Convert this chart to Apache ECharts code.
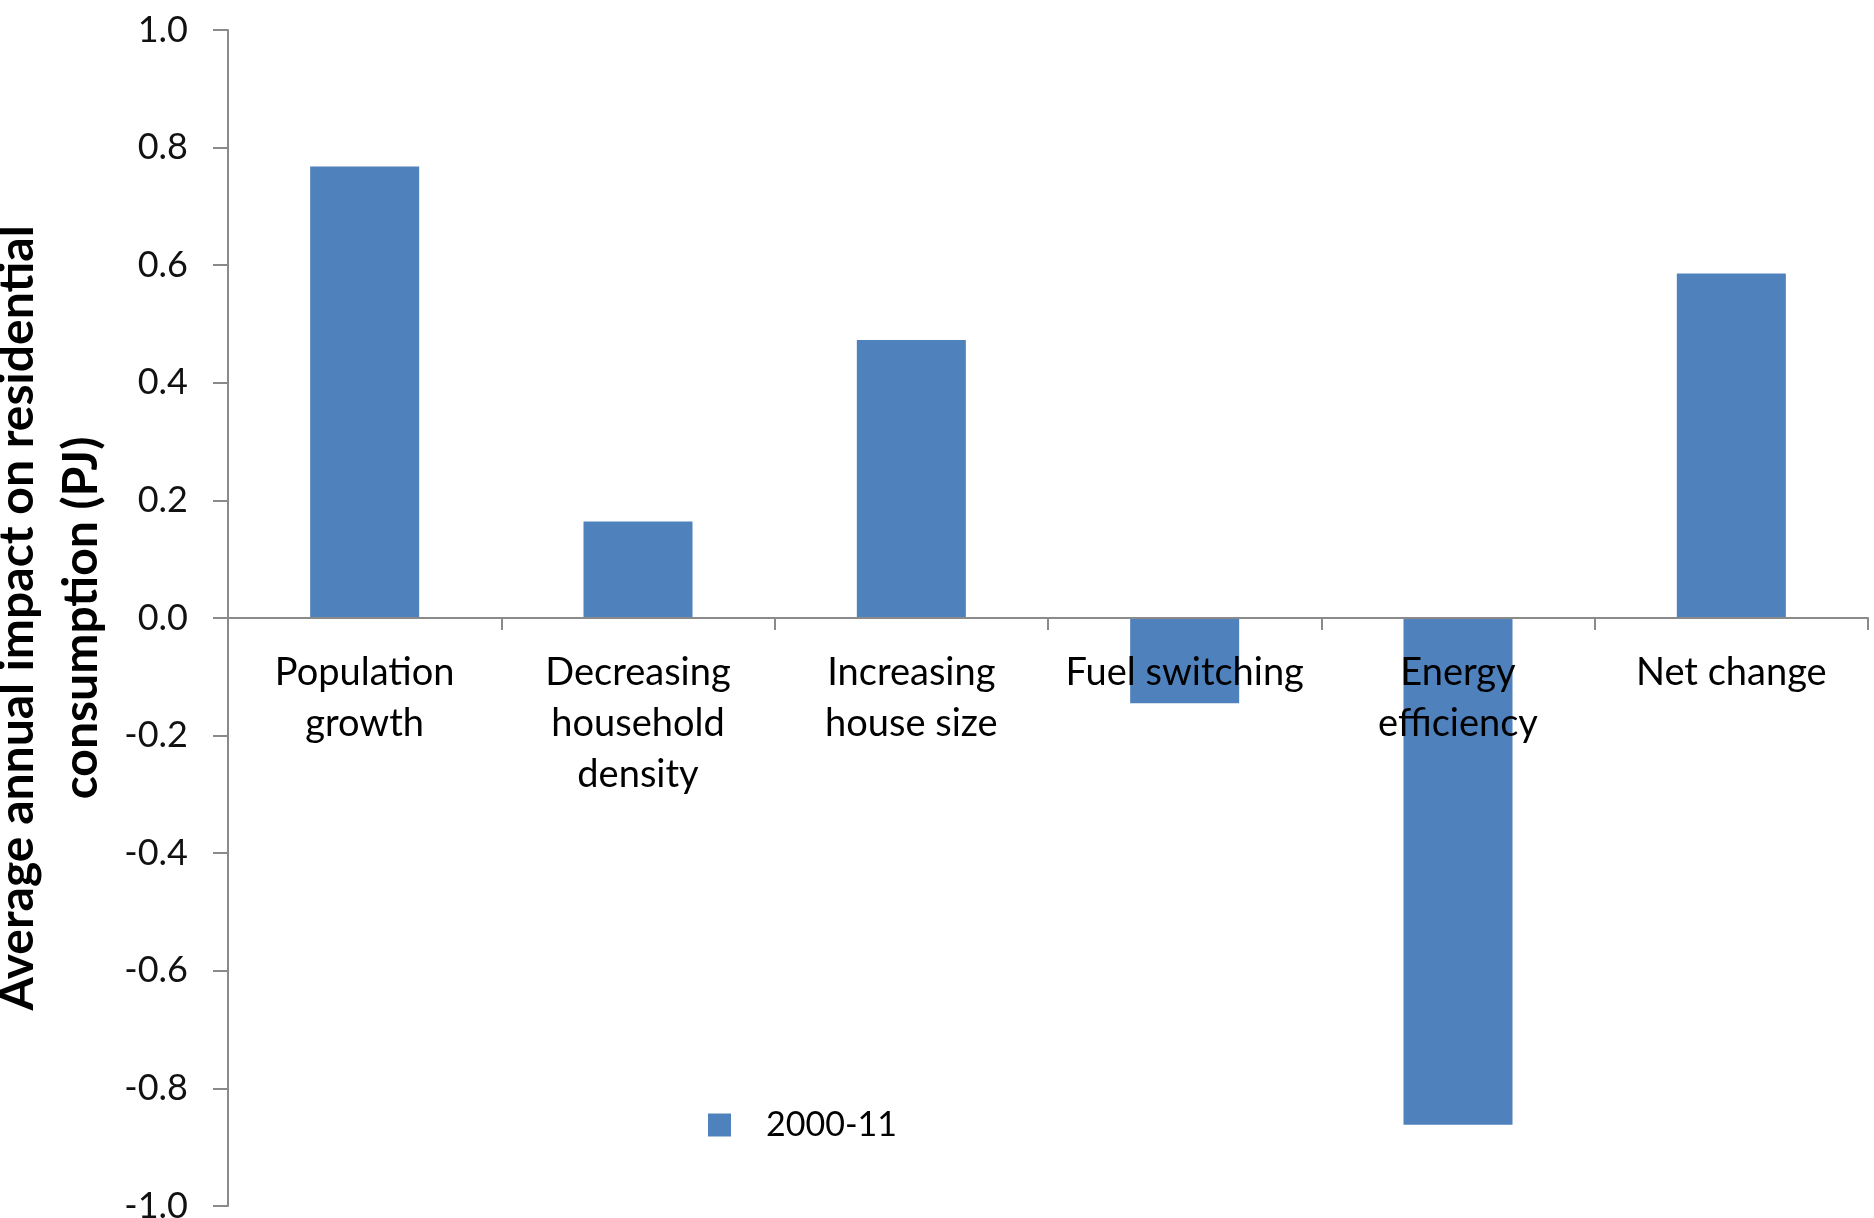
<!DOCTYPE html>
<html>
<head>
<meta charset="utf-8">
<script src="https://cdn.jsdelivr.net/npm/echarts@6/dist/echarts.min.js"></script>
<style>
html,body{margin:0;padding:0;background:#fff;}
#chart{width:1874px;height:1218px;}
</style>
</head>
<body>
<div id="chart"></div>
<script>
const categories = ["Population\ngrowth", "Decreasing\nhousehold\ndensity", "Increasing\nhouse size", "Fuel switching", "Energy\nefficiency", "Net change"];
const seriesName = "2000-11";
const values = [0.768, 0.164, 0.473, -0.145, -0.862, 0.586];
const yMin = -1.0, yMax = 1.0, yStep = 0.2;
const yTitle = "Average annual impact on residential\nconsumption (PJ)";

const FONT = "Lato";
const GRID_TOP = 30, GRID_BOTTOM = 12;
const plotH = 1218 - GRID_TOP - GRID_BOTTOM;
const zeroOffset = -plotH * (0 - yMin) / (yMax - yMin);

const chart = echarts.init(document.getElementById('chart'), null, {renderer: 'canvas'});
chart.setOption({
  animation: false,
  backgroundColor: '#ffffff',
  textStyle: {fontFamily: FONT},
  grid: {left: 228, right: 6, top: GRID_TOP, bottom: GRID_BOTTOM, containLabel: false, outerBoundsMode: 'none'},
  legend: {
    left: 708, top: 1108, padding: 0,
    icon: 'rect', itemWidth: 23, itemHeight: 23,
    textStyle: {fontFamily: FONT, fontSize: 34, color: '#000', padding: [0, 0, 0, 30]},
    data: [seriesName]
  },
  xAxis: {
    type: 'category',
    data: categories,
    boundaryGap: true,
    position: 'bottom',
    offset: zeroOffset,
    z: 5,
    axisLine: {onZero: false, lineStyle: {color: '#8a8a8a', width: 2}},
    axisTick: {show: true, length: 12, lineStyle: {color: '#8a8a8a', width: 2}},
    axisLabel: {fontFamily: FONT, fontSize: 38, color: '#000', lineHeight: 51, margin: 29, interval: 0}
  },
  yAxis: {
    type: 'value',
    min: yMin, max: yMax, interval: yStep,
    splitLine: {show: false},
    axisLine: {show: true, lineStyle: {color: '#8a8a8a', width: 2}},
    axisTick: {show: true, length: 15, lineStyle: {color: '#8a8a8a', width: 2}},
    axisLabel: {fontFamily: FONT, fontSize: 36, color: '#111', margin: 40, formatter: v => v.toFixed(1)},
    name: yTitle,
    nameLocation: 'middle',
    nameRotate: 90,
    nameGap: 92,
    nameTextStyle: {fontFamily: FONT, fontSize: 48, fontWeight: 'bold', color: '#000', lineHeight: 64, align: 'center'}
  },
  series: [{
    name: seriesName,
    type: 'bar',
    data: values,
    barWidth: 109,
    itemStyle: {color: '#4f81bd'}
  }]
});
</script>
</body>
</html>
